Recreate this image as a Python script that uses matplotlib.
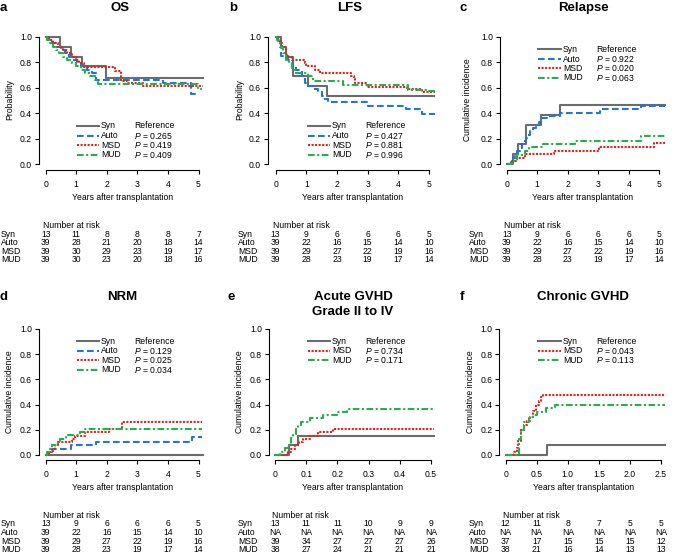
"""
Survival / cumulative incidence panels (OS, LFS, Relapse, NRM, aGVHD, cGVHD).
"""
import matplotlib
matplotlib.use("Agg")
import matplotlib.pyplot as plt
from matplotlib import transforms

plt.rcParams["font.family"] = ["Liberation Sans", "DejaVu Sans"]
plt.rcParams["mathtext.fontset"] = "custom"
plt.rcParams["mathtext.it"] = "Liberation Sans:italic"
plt.rcParams["mathtext.rm"] = "Liberation Sans"

W, H = 685, 558

groups = ["Syn", "Auto", "MSD", "MUD"]
colors = {"Syn": "#6b6c6e", "Auto": "#1f78d1", "MSD": "#e2231c", "MUD": "#22b24c"}
styles = {"Syn": "-", "Auto": (0, (3.2, 1.6)), "MSD": (0, (1.0, 0.7)),
          "MUD": (0, (3.2, 1.2, 1.0, 1.2))}

# ---------------- data ----------------
os_t = {
    "Syn": [0, 0.47, 0.83, 1.2, 1.97, 5.15],
    "Auto": [0, .12, .22, .35, .5, .62, .75, .9, 1.02, 1.15, 1.35, 1.5, 1.66, 3.84, 4.76, 5.03],
    "MSD": [0, .1, .25, .4, .55, .7, .85, 1.0, 1.1, 1.25, 2.26, 2.46, 2.7, 3.18, 5.14],
    "MUD": [0, .05, .15, .25, .35, .45, .55, .7, .85, 1.0, 1.15, 1.3, 1.45, 1.6, 1.72, 4.98, 5.12],
}
os_s = {
    "Syn": [1, .923, .846, .769, .677, .677],
    "Auto": [1, .974, .949, .923, .897, .872, .846, .82, .795, .769, .744, .718, .66, .635, .55, .55],
    "MSD": [1, .974, .949, .923, .897, .872, .846, .82, .795, .762, .736, .655, .64, .616, .616],
    "MUD": [1, .974, .949, .923, .897, .872, .846, .82, .795, .77, .744, .718, .692, .66, .632, .59, .59],
}
lfs_t = {
    "Syn": [0, .17, .34, .58, 1.07, 1.68, 5.15],
    "Auto": [0, .08, .17, .42, .58, .68, .85, .96, 1.07, 1.23, 1.39, 1.5, 1.61, 1.7, 3.0, 4.25, 4.76, 5.2],
    "MSD": [0, .08, .15, .2, .33, .38, .55, .95, 1.0, 1.3, 1.45, 2.46, 2.54, 2.6, 2.97, 4.27, 4.76, 5.2],
    "MUD": [0, .05, .14, .25, .35, .45, .55, .63, 1.07, 1.23, 2.2, 4.3, 4.9, 5.2],
}
lfs_s = {
    "Syn": [1, .923, .846, .692, .615, .538, .538],
    "Auto": [1, .949, .85, .82, .77, .744, .692, .641, .615, .59, .564, .538, .513, .49, .46, .43, .39, .39],
    "MSD": [1, .974, .949, .923, .872, .846, .82, .795, .77, .744, .718, .692, .667, .641, .605, .59, .57, .57],
    "MUD": [1, .974, .923, .872, .82, .795, .744, .718, .692, .655, .62, .585, .575, .575],
}
rel_t = {
    "Syn": [0, .2, .38, .62, 1.12, 1.75, 5.2],
    "Auto": [0, .15, .2, .28, .35, .45, .5, .55, .62, .68, .75, .85, .95, 1.05, 1.15, 1.4, 1.75, 3.05, 4.4, 5.2],
    "MSD": [0, .16, .35, .6, 1.55, 3.02, 4.84, 5.19],
    "MUD": [0, .19, .33, .6, .73, 1.2, 2.24, 4.39, 5.2],
}
rel_s = {
    "Syn": [0, .077, .154, .308, .385, .462, .462],
    "Auto": [0, .026, .051, .077, .103, .128, .154, .18, .205, .231, .256, .282, .308, .333, .359, .375, .40, .43, .46, .46],
    "MSD": [0, .026, .051, .077, .103, .13, .163, .163],
    "MUD": [0, .026, .074, .10, .13, .155, .18, .22, .22],
}
nrm_t = {
    "Syn": [0, 5.15],
    "Auto": [0, .11, .25, .84, 1.63, 4.78, 5.1],
    "MSD": [0, .1, .2, .3, .41, .85, .95, 1.28, 2.06, 2.5, 5.1],
    "MUD": [0, .03, .1, .2, .4, .47, .68, 1.12, 1.28, 5.1],
}
nrm_s = {
    "Syn": [0, 0],
    "Auto": [0, .026, .051, .077, .103, .145, .145],
    "MSD": [0, .026, .051, .077, .103, .128, .154, .18, .21, .265, .265],
    "MUD": [0, .026, .051, .077, .103, .13, .155, .18, .205, .205],
}
agvhd_t = {
    "Syn": [0, .044, .074, .51],
    "MSD": [0, .042, .052, .063, .077, .09, .113, .138, .186, .51],
    "MUD": [0, .015, .031, .045, .052, .058, .066, .074, .084, .113, .154, .2, .23, .51],
}
agvhd_s = {
    "Syn": [0, .077, .154, .154],
    "MSD": [0, .026, .051, .077, .103, .128, .154, .18, .205, .205],
    "MUD": [0, .026, .053, .079, .132, .158, .21, .237, .263, .29, .316, .342, .368, .368],
}
cgvhd_t = {
    "Syn": [0, .66, 2.56],
    "MSD": [0, .13, .18, .2, .24, .3, .35, .39, .44, .49, .53, .57, .6, 2.56],
    "MUD": [0, .21, .22, .25, .3, .38, .44, .5, .65, .8, 2.56],
}
cgvhd_s = {
    "Syn": [0, .083, .083],
    "MSD": [0, .027, .054, .11, .2, .24, .27, .3, .35, .4, .43, .46, .475, .475],
    "MUD": [0, .05, .13, .2, .26, .29, .32, .34, .37, .395, .395],
}

os_p = {"Auto": "0.265", "MSD": "0.419", "MUD": "0.409"}
lfs_p = {"Auto": "0.427", "MSD": "0.881", "MUD": "0.996"}
rel_p = {"Auto": "0.922", "MSD": "0.020", "MUD": "0.063"}
nrm_p = {"Auto": "0.129", "MSD": "0.025", "MUD": "0.034"}
agvhd_p = {"MSD": "0.734", "MUD": "0.171"}
cgvhd_p = {"MSD": "0.043", "MUD": "0.113"}

os_risk = {"Syn": [13, 11, 8, 8, 8, 7], "Auto": [39, 28, 21, 20, 18, 14],
           "MSD": [39, 30, 29, 23, 19, 17], "MUD": [39, 30, 23, 20, 18, 16]}
lfs_risk = {"Syn": [13, 9, 6, 6, 6, 5], "Auto": [39, 22, 16, 15, 14, 10],
            "MSD": [39, 29, 27, 22, 19, 16], "MUD": [39, 28, 23, 19, 17, 14]}
agvhd_risk = {"Syn": [13, 11, 11, 10, 9, 9], "Auto": ["NA"] * 6,
              "MSD": [39, 34, 27, 27, 27, 26], "MUD": [38, 27, 24, 21, 21, 21]}
cgvhd_risk = {"Syn": [12, 11, 8, 7, 5, 5], "Auto": ["NA"] * 6,
              "MSD": [37, 17, 15, 15, 15, 12], "MUD": [38, 21, 16, 14, 13, 13]}

years_ticks = [0, 1, 2, 3, 4, 5]
agvhd_ticks = [0, 0.1, 0.2, 0.3, 0.4, 0.5]
cgvhd_ticks = [0, 0.5, 1.0, 1.5, 2.0, 2.5]
years_labels = ["0", "1", "2", "3", "4", "5"]
agvhd_labels = ["0", "0.1", "0.2", "0.3", "0.4", "0.5"]
cgvhd_labels = ["0", "0.5", "1.0", "1.5", "2.0", "2.5"]

# ---------------- layout (pixels) ----------------
TOP = dict(y_top=37, y_zero=164, spine_y=170, title_y=8, ylab_y=100)
BOT = dict(y_top=329, y_zero=455, spine_y=460, title_y=297, ylab_y=392)

panels = [
    dict(letter="a", title=["OS"], title_x=120, letter_x=0, row=TOP,
         spine_x=39, zero_x=45.7, end_x=198.5, ticks=years_ticks, tlabels=years_labels,
         t=os_t, s=os_s, p=os_p, risk=os_risk, ylabel="Probability", ylab_x=10,
         leg=(77, 99, 101, 134, [126, 135.7, 145.3, 154.7]), lab_x=1),
    dict(letter="b", title=["LFS"], title_x=350, letter_x=229, row=TOP,
         spine_x=268, zero_x=275.6, end_x=429, ticks=years_ticks, tlabels=years_labels,
         t=lfs_t, s=lfs_s, p=lfs_p, risk=lfs_risk, ylabel="Probability", ylab_x=240,
         leg=(308, 330, 332, 365, [126, 135.7, 145.3, 154.7]), lab_x=238),
    dict(letter="c", title=["Relapse"], title_x=583, letter_x=459, row=TOP,
         spine_x=500, zero_x=506.7, end_x=659.3, ticks=years_ticks, tlabels=years_labels,
         t=rel_t, s=rel_s, p=rel_p, risk=lfs_risk, ylabel="Cumulative incidence", ylab_x=468,
         leg=(538, 561, 563, 596, [49.3, 59, 68.3, 78]), lab_x=469),
    dict(letter="d", title=["NRM"], title_x=122, letter_x=0, row=BOT,
         spine_x=39, zero_x=45.7, end_x=198.5, ticks=years_ticks, tlabels=years_labels,
         t=nrm_t, s=nrm_s, p=nrm_p, risk=lfs_risk, ylabel="Cumulative incidence", ylab_x=10,
         leg=(77, 99, 101, 134, [341, 350.7, 360.3, 369.7]), lab_x=1),
    dict(letter="e", title=["Acute GVHD", "Grade II to IV"], title_x=353, letter_x=228, row=BOT,
         spine_x=269, zero_x=275, end_x=431, ticks=agvhd_ticks, tlabels=agvhd_labels,
         t=agvhd_t, s=agvhd_s, p=agvhd_p, risk=agvhd_risk, ylabel="Cumulative incidence",
         ylab_x=240, leg=(308, 330, 332, 365, [341, 350.7, 360.3]), lab_x=238),
    dict(letter="f", title=["Chronic GVHD"], title_x=583, letter_x=460, row=BOT,
         spine_x=499.3, zero_x=505.7, end_x=661, ticks=cgvhd_ticks, tlabels=cgvhd_labels,
         t=cgvhd_t, s=cgvhd_s, p=cgvhd_p, risk=cgvhd_risk, ylabel="Cumulative incidence",
         ylab_x=470, leg=(538, 561, 563, 596, [341, 350.7, 360.3]), lab_x=469),
]

FS = 6.2


def fx(px):
    return px / W


def fy(py):
    return 1 - py / H


fig = plt.figure(figsize=(W / 100, H / 100), dpi=100)

for pn in panels:
    row = pn["row"]
    tick_end = pn["ticks"][-1]
    sx = (pn["end_x"] - pn["zero_x"]) / tick_end
    sy = row["y_zero"] - row["y_top"]
    xmin = (pn["spine_x"] - pn["zero_x"]) / sx
    xmax = tick_end * 1.06
    ymin = -(row["spine_y"] - row["y_zero"]) / sy
    ymax = 1.05
    left = pn["spine_x"]
    right = pn["zero_x"] + xmax * sx
    top = row["y_zero"] - ymax * sy
    ax = fig.add_axes([fx(left), fy(row["spine_y"]), (right - left) / W,
                       (row["spine_y"] - top) / H])
    ax.patch.set_alpha(0)
    ax.set_xlim(xmin, xmax)
    ax.set_ylim(ymin, ymax)

    for g in groups:
        if g not in pn["t"]:
            continue
        ax.step(pn["t"][g], pn["s"][g], where="post", color=colors[g],
                linestyle=styles[g], linewidth=1.5, clip_on=False)

    for side in ["top", "right"]:
        ax.spines[side].set_visible(False)
    ax.spines["left"].set_bounds(0, 1)
    ax.spines["bottom"].set_bounds(0, tick_end)
    for side in ["left", "bottom"]:
        ax.spines[side].set_linewidth(0.8)
    ax.set_yticks([0, 0.2, 0.4, 0.6, 0.8, 1.0])
    ax.set_yticklabels(["0.0", "0.2", "0.4", "0.6", "0.8", "1.0"])
    ax.set_xticks(pn["ticks"])
    ax.set_xticklabels(pn["tlabels"])
    ax.tick_params(axis="both", length=3, width=0.8, labelsize=FS)
    ax.tick_params(axis="x", pad=4.5)
    ax.tick_params(axis="y", pad=2)

    # titles and labels
    for i, line in enumerate(pn["title"]):
        fig.text(fx(pn["title_x"]), fy(row["title_y"] + 15 * i), line, ha="center",
                 va="center", fontsize=9.5, fontweight="bold")
    fig.text(fx(pn["letter_x"]), fy(row["title_y"]), pn["letter"], ha="left",
             va="center", fontsize=9.5, fontweight="bold")
    fig.text(fx(pn["ylab_x"]), fy(row["ylab_y"]), pn["ylabel"], rotation=90,
             ha="center", va="center", fontsize=FS)
    fig.text(fx((pn["zero_x"] + pn["end_x"]) / 2), fy(row["spine_y"] + 28),
             "Years after transplantation", ha="center", va="center", fontsize=FS)

    # legend
    lx0, lx1, tx, rx, rows = pn["leg"]
    shown = [g for g in groups if g in pn["t"]]
    for g, yy in zip(shown, rows):
        fig.add_artist(plt.Line2D([fx(lx0), fx(lx1)], [fy(yy), fy(yy)],
                                  color=colors[g], linestyle=styles[g], linewidth=1.5,
                                  transform=fig.transFigure))
        fig.text(fx(tx), fy(yy), g, ha="left", va="center", fontsize=FS)
        txt = "Reference" if g == "Syn" else "$P$ = " + pn["p"][g]
        fig.text(fx(rx), fy(yy), txt, ha="left", va="center", fontsize=FS)

    # number at risk table
    trans = transforms.blended_transform_factory(ax.transData, fig.transFigure)
    fig.text(fx(pn["zero_x"] - 3), fy(row["spine_y"] + 55), "Number at risk",
             ha="left", va="center", fontsize=FS)
    for k, g in enumerate(groups):
        yy = row["spine_y"] + 64 + 8.5 * k
        fig.text(fx(pn["lab_x"]), fy(yy), g, ha="left", va="center", fontsize=FS)
        for tk, val in zip(pn["ticks"], pn["risk"][g]):
            ax.text(tk, fy(yy), str(val), transform=trans, ha="center",
                    va="center", fontsize=FS)

fig.savefig("out.png", dpi=100)
